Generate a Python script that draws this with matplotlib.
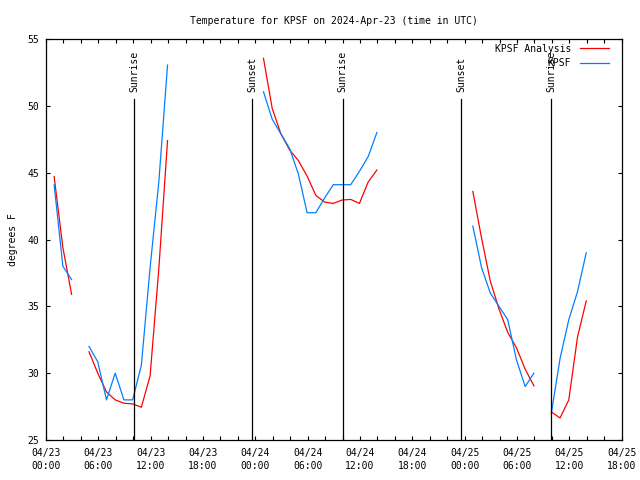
import numpy as np
import matplotlib
matplotlib.use('Agg')
import matplotlib.pyplot as plt

plt.rcParams['font.family'] = ['DejaVu Sans Mono']
plt.rcParams['font.size'] = 7

nan = np.nan
# hours since 2024-04-23 00:00 UTC (observations at :56 past the hour)
hour_index = list(range(0, 62))
minute_offset = 56 / 60.0

analysis = [44.7, 39.4, 35.9, nan,
            31.6, 30.0, 28.6, 28.0, 27.75, 27.7, 27.45, 29.8, 37.8, 47.4,
            nan, nan, nan, nan, nan, nan, nan, nan, nan, nan,
            53.55, 49.8, 47.9, 46.7, 45.9, 44.75, 43.3, 42.8, 42.7, 42.95, 43.0, 42.7, 44.3, 45.2,
            nan, nan, nan, nan, nan, nan, nan, nan, nan, nan,
            43.6, 40.1, 36.9, 34.8, 33.05, 31.9, 30.3, 29.05,
            nan,
            27.1, 26.65, 28.0, 32.7, 35.4]

observed = [44.1, 38.0, 37.0, nan,
            32.0, 30.85, 28.0, 30.0, 28.0, 28.0, 30.6, 37.9, 44.3, 53.05,
            nan, nan, nan, nan, nan, nan, nan, nan, nan, nan,
            51.05, 49.0, 47.9, 46.8, 44.9, 42.0, 42.0, 43.1, 44.1, 44.1, 44.1, 45.1, 46.2, 48.0,
            nan, nan, nan, nan, nan, nan, nan, nan, nan, nan,
            41.0, 37.9, 36.0, 35.0, 34.0, 31.0, 29.0, 30.0,
            nan,
            27.0, 31.1, 34.0, 36.1, 39.0]

sun_labels = ["Sunrise", "Sunset", "Sunrise", "Sunset", "Sunrise"]
sun_hours = [10.1, 23.65, 34.0, 47.6, 57.95]

xtick_hours = list(range(0, 67, 6))
xtick_labels = ["04/23\n00:00", "04/23\n06:00", "04/23\n12:00", "04/23\n18:00",
                "04/24\n00:00", "04/24\n06:00", "04/24\n12:00", "04/24\n18:00",
                "04/25\n00:00", "04/25\n06:00", "04/25\n12:00", "04/25\n18:00"]
ytick_values = [25, 30, 35, 40, 45, 50, 55]

t = np.array(hour_index) + minute_offset

fig = plt.figure(figsize=(6.4, 4.8), dpi=100)
ax = fig.add_axes([46/640, 1-440/480, (621.7-46)/640, (440-39)/480])

l1, = ax.plot(t, analysis, color='#ff0000', lw=0.9, label='KPSF Analysis')
l2, = ax.plot(t, observed, color='#0080ff', lw=0.9, label='KPSF')

for lab, h in zip(sun_labels, sun_hours):
    ax.plot([h, h], [25, 50.5], color='black', lw=0.9)
    ax.text(h, 51.0, lab, rotation=90, ha='center', va='bottom', fontsize=7)

ax.set_xlim(0, 66)
ax.set_ylim(25, 55)
ax.set_xticks(xtick_hours)
ax.set_xticklabels(xtick_labels, linespacing=1.35)
ax.set_xticks(np.arange(0, 67, 2), minor=True)
ax.set_yticks(ytick_values)
ax.tick_params(axis='both', which='both', direction='in', top=True, right=True,
               length=3, width=0.8)
ax.tick_params(axis='x', which='major', pad=6)
ax.tick_params(axis='y', which='major', pad=5)
for s in ax.spines.values():
    s.set_linewidth(0.9)

ax.set_title("Temperature for KPSF on 2024-Apr-23 (time in UTC)", fontsize=7, pad=11)
ax.set_ylabel("degrees F", fontsize=7, labelpad=7)

leg = ax.legend(handles=[l1, l2], loc='upper right', bbox_to_anchor=(0.978, 0.988),
                frameon=False, markerfirst=False, handlelength=3.0, handletextpad=0.9,
                labelspacing=0.45, borderpad=0, borderaxespad=0, fontsize=7)

fig.savefig('out.png', dpi=100)
